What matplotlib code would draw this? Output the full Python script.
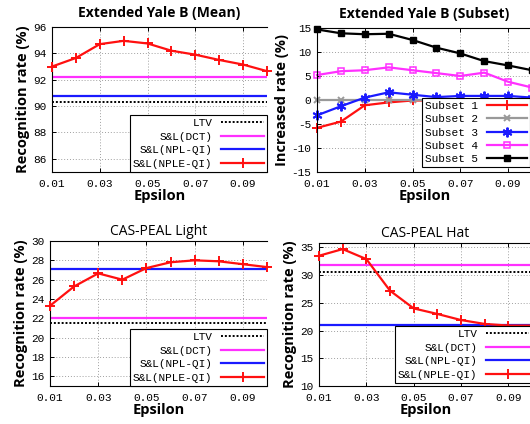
import matplotlib
matplotlib.use("Agg")
import matplotlib.pyplot as plt
import numpy as np

eps = [0.01, 0.02, 0.03, 0.04, 0.05, 0.06, 0.07, 0.08, 0.09, 0.10]
xticks = [0.01, 0.03, 0.05, 0.07, 0.09]

# Extended Yale B (Mean)
yale_nple = [93.0, 93.65, 94.7, 94.95, 94.75, 94.2, 93.9, 93.5, 93.15, 92.65]
yale_dct = 92.2
yale_nplqi = 90.8
yale_ltv = 90.3

# Extended Yale B (Subset)
subset1 = [-5.8, -4.5, -1.1, -0.5, -0.1, -0.1, -0.2, -0.2, -0.3, -0.2]
subset2 = [0.0, 0.0, 0.0, 0.0, 0.0, 0.0, 0.0, 0.0, 0.0, 0.0]
subset3 = [-3.2, -1.3, 0.5, 1.6, 1.1, 0.6, 0.85, 0.85, 0.85, 0.5]
subset4 = [5.2, 6.0, 6.2, 6.8, 6.2, 5.6, 5.0, 5.7, 3.8, 2.6]
subset5 = [14.7, 13.9, 13.7, 13.8, 12.5, 10.9, 9.7, 8.1, 7.2, 6.2]

# CAS-PEAL Light
light_nple = [23.3, 25.3, 26.65, 26.0, 27.2, 27.8, 28.0, 27.9, 27.6, 27.3]
light_dct = 22.0
light_nplqi = 27.1
light_ltv = 21.55

# CAS-PEAL Hat
hat_nple = [33.5, 34.7, 32.9, 27.2, 24.0, 23.0, 21.9, 21.2, 20.9, 20.9]
hat_dct = 31.9
hat_nplqi = 21.0
hat_ltv = 30.5

RED = "#ff1010"
MAG = "#ff30ff"
BLUE = "#1a1aff"
MONO = "Liberation Mono"
SANS = "Open Sans"

fig = plt.figure(figsize=(5.3, 4.24), dpi=100)

def frac(l, t, r, b):
    W, H = 530, 424
    return [l / W, 1 - b / H, (r - l) / W, (b - t) / H]

def style_axes(ax, ylim, yticks, ylabel, title, title_bold, title_pad):
    ax.set_xlim(0.01, 0.10)
    ax.set_ylim(*ylim)
    ax.set_xticks(xticks)
    ax.set_xticklabels(["%.2f" % v for v in xticks], family=MONO, fontsize=8)
    ax.set_yticks(yticks)
    ax.set_yticklabels([str(v) for v in yticks], family=MONO, fontsize=8)
    ax.grid(True, color="#a0a0a0", linestyle=(0, (1, 2)), linewidth=0.7)
    ax.tick_params(direction="in", length=3, width=0.7, top=True, right=False)
    ax.tick_params(axis="x", pad=5)
    ax.tick_params(axis="y", pad=4)
    ax.spines["right"].set_visible(False)
    for s in ["left", "top", "bottom"]:
        ax.spines[s].set_linewidth(0.8)
    ax.set_xlabel("Epsilon", family=SANS, fontsize=10.5, fontweight="bold", labelpad=0)
    ax.set_ylabel(ylabel, family=SANS, fontsize=10.5, fontweight="bold", labelpad=2)
    ax.set_title(title, family=SANS, fontsize=10,
                 fontweight="bold" if title_bold else "normal", pad=title_pad)

def method_panel(ax, nple, dct, nplqi, ltv, leg_bbox):
    ax.axhline(ltv, color="black", linestyle=(0, (1, 1)), linewidth=1.4, label="LTV")
    ax.axhline(dct, color=MAG, linewidth=1.6, label="S&L(DCT)")
    ax.axhline(nplqi, color=BLUE, linewidth=1.6, label="S&L(NPL-QI)")
    ax.plot(eps, nple, color=RED, linewidth=1.6, marker="+", markersize=6.5,
            markeredgewidth=1.4, label="S&L(NPLE-QI)", clip_on=False, zorder=5)
    leg = ax.legend(loc="lower right", bbox_to_anchor=leg_bbox, markerfirst=False,
                    prop={"family": MONO, "size": 8}, frameon=True, fancybox=False,
                    edgecolor="black", framealpha=1, borderaxespad=0,
                    handlelength=3.8, labelspacing=0.32, borderpad=0.3,
                    handletextpad=0.8)
    leg.get_frame().set_linewidth(0.8)

# Panel 1
ax1 = fig.add_axes(frac(52, 27, 267, 172))
method_panel(ax1, yale_nple, yale_dct, yale_nplqi, yale_ltv, (1.0, 0.0))
style_axes(ax1, (85, 96), [86, 88, 90, 92, 94, 96], "Recognition rate (%)",
           "Extended Yale B (Mean)", True, 7)

# Panel 2
ax2 = fig.add_axes(frac(317, 28, 532, 172))
ax2.plot(eps, subset1, color=RED, linewidth=1.6, marker="+", markersize=6.5,
         markeredgewidth=1.4, label="Subset 1", clip_on=False)
ax2.plot(eps, subset2, color="#999999", linewidth=1.6, marker="x", markersize=5,
         markeredgewidth=1.4, label="Subset 2", clip_on=False)
ax2.plot(eps, subset3, color=BLUE, linewidth=1.6, marker=(6, 2, 0), markersize=7,
         markeredgewidth=1.4, label="Subset 3", clip_on=False)
ax2.plot(eps, subset4, color=MAG, linewidth=1.6, marker="s", markersize=4.8,
         markerfacecolor="none", markeredgewidth=1.1, label="Subset 4", clip_on=False)
ax2.plot(eps, subset5, color="black", linewidth=1.6, marker="s", markersize=4.8,
         label="Subset 5", clip_on=False)
leg2 = ax2.legend(loc="lower right", bbox_to_anchor=(0.99, 0.035), markerfirst=False,
                  prop={"family": MONO, "size": 8}, frameon=True, fancybox=False,
                  edgecolor="black", framealpha=1, borderaxespad=0,
                  handlelength=3.6, labelspacing=0.3, borderpad=0.25,
                  handletextpad=0.8)
leg2.get_frame().set_linewidth(0.8)
style_axes(ax2, (-15, 15), [-15, -10, -5, 0, 5, 10, 15], "Increased rate (%)",
           "Extended Yale B (Subset)", True, 7)

# Panel 3
ax3 = fig.add_axes(frac(50, 241, 267, 386))
method_panel(ax3, light_nple, light_dct, light_nplqi, light_ltv, (1.0, 0.0))
style_axes(ax3, (15, 30), [16, 18, 20, 22, 24, 26, 28, 30], "Recognition rate (%)",
           "CAS-PEAL Light", False, 4)

# Panel 4
ax4 = fig.add_axes(frac(319, 243, 532, 386))
method_panel(ax4, hat_nple, hat_dct, hat_nplqi, hat_ltv, (1.0, 0.02))
style_axes(ax4, (10, 35.8), [10, 15, 20, 25, 30, 35], "Recognition rate (%)",
           "CAS-PEAL Hat", False, 4)

fig.savefig("out.png", dpi=100)
